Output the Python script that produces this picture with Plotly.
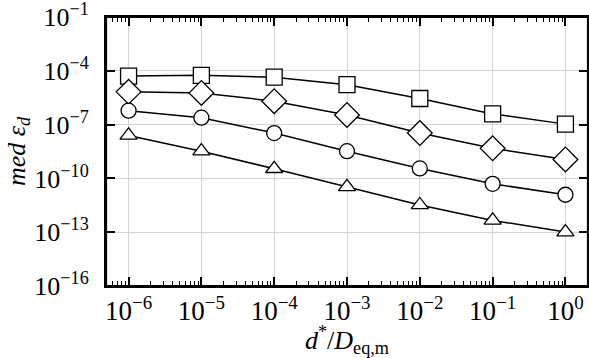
import plotly.graph_objects as go

x_vals = [1e-6, 1e-5, 1e-4, 1e-3, 1e-2, 1e-1, 1e0]
log_square = [-4.29, -4.25, -4.35, -4.77, -5.54, -6.40, -6.97]
log_diamond = [-5.17, -5.23, -5.69, -6.46, -7.47, -8.32, -8.94]
log_circle = [-6.22, -6.61, -7.47, -8.48, -9.44, -10.30, -10.91]
log_triangle = [-7.60, -8.48, -9.46, -10.47, -11.48, -12.34, -12.99]

x_tick_exps = [-6, -5, -4, -3, -2, -1, 0]
y_tick_exps = [-16, -13, -10, -7, -4, -1]

series = [
    ("square", log_square, 16),
    ("diamond", log_diamond, 19),
    ("circle", log_circle, 15),
    ("triangle-up", log_triangle, 15),
]

fig = go.Figure()
for sym, vals, size in series:
    fig.add_trace(go.Scatter(
        x=x_vals, y=[10 ** v for v in vals], mode="lines+markers",
        line=dict(color="black", width=1.5),
        marker=dict(symbol=sym, size=size, color="white",
                    line=dict(color="black", width=1.3)),
        showlegend=False,
    ))

font = dict(family="Liberation Serif, DejaVu Serif, serif", size=27, color="black")
yfont = dict(family="Liberation Serif, DejaVu Serif, serif", size=26, color="black")
tfont = dict(family="Liberation Serif, DejaVu Serif, serif", size=26, color="black")

def lab(e):
    return "10<sup>%s</sup>" % (str(e).replace("-", "−"))

fig.update_xaxes(
    type="log", range=[-6.31, 0.31],
    tickmode="array", tickvals=[10 ** e for e in x_tick_exps],
    ticktext=[lab(e) for e in x_tick_exps],
    showgrid=True, gridcolor="#d4d4d4", gridwidth=1,
    ticks="inside", ticklen=9, tickwidth=1.8, tickcolor="black",
    minor=dict(ticks="inside", ticklen=5, tickwidth=1.2, tickcolor="black", dtick="D1", showgrid=False),
    showline=True, linecolor="black", linewidth=2, mirror="allticks",
    zeroline=False, tickfont=font, automargin=False, ticklabeloverflow="allow",
    title=dict(text="<i>d</i><sup>*</sup>/<i>D</i><sub>eq,m</sub>", font=tfont, standoff=0),
)
fig.update_yaxes(
    type="log", range=[-16.0, -0.995],
    tickmode="array", tickvals=[10 ** e for e in y_tick_exps],
    ticktext=[lab(e) for e in y_tick_exps],
    showgrid=True, gridcolor="#d4d4d4", gridwidth=1,
    ticks="inside", ticklen=9, tickwidth=1.8, tickcolor="black",
    showline=True, linecolor="black", linewidth=2, mirror="allticks",
    zeroline=False, tickfont=yfont, automargin=False, ticklabelstandoff=10,
    ticklabeloverflow="allow",
    title=dict(text="<i>med ε</i><sub><i>d</i></sub>", font=tfont, standoff=0),
)
fig.add_shape(type="rect", xref="paper", yref="paper", x0=0, x1=1, y0=0, y1=1,
              line=dict(color="black", width=2.2), layer="above")
fig.update_layout(
    width=589, height=358,
    margin=dict(l=106, r=1, t=17, b=72),
    paper_bgcolor="white", plot_bgcolor="white",
    font=font,
)
fig.write_html("out.html", config={"displayModeBar": False},
               post_script="document.body.style.margin='0px';")
